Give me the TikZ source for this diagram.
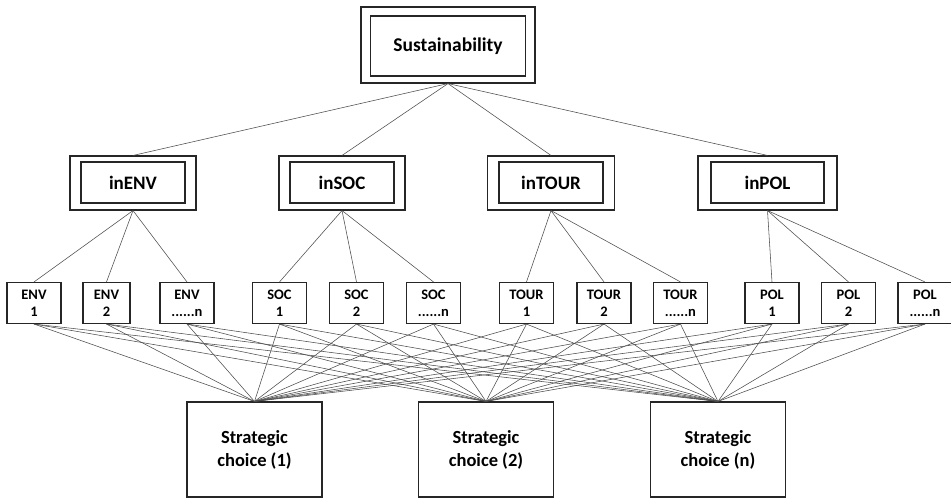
\documentclass[tikz,border=0pt]{standalone}
\usepackage{fontspec}
\setmainfont{Carlito}
\begin{document}
\begin{tikzpicture}[x=1pt,y=-1pt,
  box/.style={draw=black!85, line width=1.1pt, rectangle, inner sep=0pt, fill=white},
  link/.style={draw=black!70, line width=0.55pt},
  topfont/.style={font=\bfseries\fontsize{19.5}{23}\selectfont},
  midfont/.style={font=\bfseries\fontsize{19}{23}\selectfont},
  leaffont/.style={font=\bfseries\fontsize{14.5}{17}\selectfont, align=center},
  choicefont/.style={font=\bfseries\fontsize{18.5}{23}\selectfont, align=center},
  leafbox/.style={box, minimum width=54pt, minimum height=41pt, leaffont},
  choicebox/.style={box, minimum width=135pt, minimum height=95pt, choicefont}]
\useasboundingbox (0,0) rectangle (951,499);

% top
\node[box, minimum width=174pt, minimum height=76pt] (sustO) at (448,45) {};
\node[box, minimum width=155pt, minimum height=60pt, topfont] (sust) at (448,46) {Sustainability};

% middle
\foreach \n/\x/\w/\iw/\t in {env/133/126/104/inENV, soc/342/126/104/inSOC, tour/551/127/104/inTOUR, pol/767.5/139/113/inPOL}{
  \node[box, minimum width=\w pt, minimum height=54pt] (\n O) at (\x,183) {};
  \node[box, minimum width=\iw pt, minimum height=41pt, midfont] (\n) at (\x,182.5) {\t};
}

% leaves
\node[leafbox] (env1) at (34,303) {ENV\\1};
\node[leafbox, minimum width=47pt] (env2) at (106.5,303) {ENV\\2};
\node[leafbox] (env3) at (187,303) {ENV\\......n};
\node[leafbox] (soc1) at (279.5,303) {SOC\\1};
\node[leafbox] (soc2) at (356.5,303) {SOC\\2};
\node[leafbox] (soc3) at (433.5,303) {SOC\\......n};
\node[leafbox] (tour1) at (526.5,303) {TOUR\\1};
\node[leafbox] (tour2) at (604,303) {TOUR\\2};
\node[leafbox] (tour3) at (680.5,303) {TOUR\\......n};
\node[leafbox] (pol1) at (772,303) {POL\\1};
\node[leafbox] (pol2) at (848.5,303) {POL\\2};
\node[leafbox] (pol3) at (925,303) {POL\\......n};

% strategic choices
\node[choicebox] (sc1) at (254.5,449.5) {Strategic\\choice (1)};
\node[choicebox] (sc2) at (486,449.5) {Strategic\\choice (2)};
\node[choicebox] (sc3) at (718,449.5) {Strategic\\choice (n)};

% links top -> middle
\foreach \n in {env,soc,tour,pol}{
  \draw[link] (sustO.south) -- (\n O.north);
}
% middle -> leaves
\foreach \n in {env,soc,tour,pol}{
  \foreach \k in {1,2,3}{
    \draw[link] (\n O.south) -- (\n\k.north);
  }
}
% leaves -> choices
\foreach \n in {env,soc,tour,pol}{
  \foreach \k in {1,2,3}{
    \foreach \s in {sc1,sc2,sc3}{
      \draw[link] (\n\k.south) -- (\s.north);
    }
  }
}
\end{tikzpicture}
\end{document}
